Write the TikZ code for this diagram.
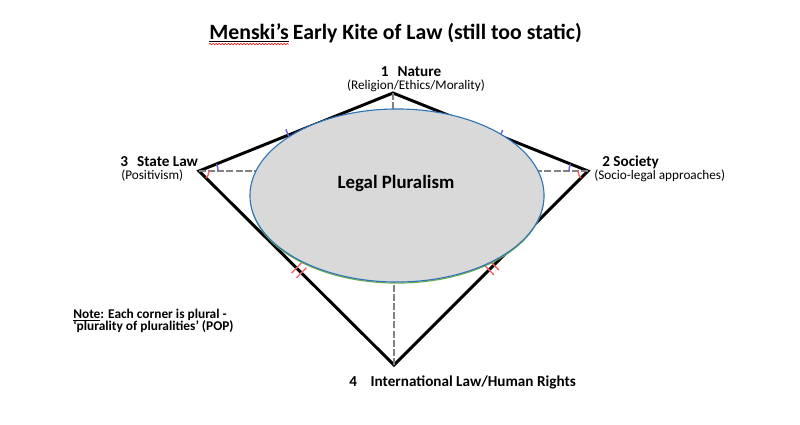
\documentclass[tikz,border=0pt]{standalone}
\usepackage{fontspec}
\setmainfont{Carlito}
\usetikzlibrary{positioning, calc, shapes.geometric, decorations.pathmorphing}
\definecolor{lpfill}{RGB}{217,217,217}
\definecolor{lpblue}{RGB}{46,117,182}
\definecolor{lpgreen}{RGB}{112,173,71}
\definecolor{tickblue}{RGB}{105,95,235}
\definecolor{tickred}{RGB}{245,100,100}
\definecolor{spokegray}{RGB}{130,130,130}
\tikzset{
  kite/.style={line width=2.1pt, black, line join=miter},
  spoke/.style={spokegray, line width=1.1pt, dash pattern=on 5pt off 1.5pt},
  tickb/.style={tickblue, line width=1pt},
  tickr/.style={tickred, line width=1pt},
  lpshape/.style={ellipse, draw=lpblue, fill=lpfill, line width=0.8pt, inner sep=0pt,
    minimum width=7.35cm, minimum height=4.325cm},
  corner/.style={font=\bfseries\fontsize{10.8}{13}\selectfont, inner sep=0pt},
  cornersub/.style={font=\fontsize{9.4}{11}\selectfont, inner sep=0pt},
  notetext/.style={font=\bfseries\fontsize{9.5}{11}\selectfont, inner sep=0pt, anchor=base west},
  titletext/.style={font=\bfseries\fontsize{15.5}{18}\selectfont, inner sep=0pt},
}
\newcommand{\gap}[1]{\hspace{#1em}}

\begin{document}
\begin{tikzpicture}[x=0.025cm, y=0.025cm]
      \useasboundingbox (0,0) rectangle (800,424);

      % corners of the kite
      \coordinate (nat) at (393,331);
      \coordinate (soc) at (588,253);
      \coordinate (intl) at (394,59);
      \coordinate (sl) at (199,253);
      \coordinate (lpc) at (397,228.5);

      % title
      \node[titletext, anchor=base west] (ttlA) at (209,385) {\underline{Menski’s}};
      \node[titletext, anchor=base west] (ttlB) at ([xshift=0.25em]ttlA.base east) {Early Kite of Law (still too static)};
      \draw[red, line width=0.4pt, decorate, decoration={snake, amplitude=0.5pt, segment length=2.2pt}]
        ([yshift=-3.6pt]ttlA.base west) -- ([yshift=-3.6pt]ttlA.base east);

      % kite
      \draw[kite] (nat) -- (soc) -- (intl) -- (sl) -- cycle;

      % spokes
      \draw[spoke] (nat) -- (nat |- lpc);
      \draw[spoke] (intl) -- (intl |- lpc);
      \draw[spoke] (sl) -- (sl -| lpc);
      \draw[spoke] (soc) -- (soc -| lpc);

      % equal sides
      \path (sl) -- (nat) coordinate[pos=0.46] (tkA);
      \path (soc) -- (nat) coordinate[pos=0.45] (tkB);
      \path (sl) -- (intl) coordinate[pos=0.50] (tkC1) coordinate[pos=0.525] (tkC2);
      \path (soc) -- (intl) coordinate[pos=0.485] (tkD1) coordinate[pos=0.51] (tkD2);
      \draw[tickb] ($(tkA)!4.5pt!90:(nat)$) -- ($(tkA)!2pt!-90:(nat)$);
      \draw[tickb] ($(tkB)!4.5pt!-90:(nat)$) -- ($(tkB)!2pt!90:(nat)$);
      \draw[tickr] ($(tkC1)!5pt!90:(intl)$) -- ($(tkC1)!5pt!-90:(intl)$);
      \draw[tickr] ($(tkC2)!5pt!90:(intl)$) -- ($(tkC2)!5pt!-90:(intl)$);
      \draw[tickr] ($(tkD1)!5pt!90:(intl)$) -- ($(tkD1)!5pt!-90:(intl)$);
      \draw[tickr] ($(tkD2)!5pt!90:(intl)$) -- ($(tkD2)!5pt!-90:(intl)$);

      % equal angles
      \draw[tickb] ($(sl)+(19,0)$) arc[start angle=0, end angle=22, radius=19];
      \draw[tickr] ($(sl)+(10,0)$) arc[start angle=0, end angle=-45, radius=10];
      \draw[tickb] ($(soc)+(-19,0)$) arc[start angle=180, end angle=158, radius=19];
      \draw[tickr] ($(soc)+(-10,0)$) arc[start angle=180, end angle=225, radius=10];

      % legal pluralism
      \draw[lpgreen, line width=0.8pt] ($(lpc)+(0,-1.6)$) ellipse[x radius=146.5, y radius=86];
      \node[lpshape] (lp) at (lpc) {};
      \node[font=\bfseries\fontsize{13.4}{16}\selectfont, inner sep=0pt] (lptxt) at (396,241) {Legal Pluralism};

      % corner labels
      \node[corner, anchor=base] (natA) at (411,347.5) {1\gap{0.6}Nature};
      \node[cornersub, anchor=base] (natB) at (416,335) {(Religion/Ethics/Morality)};
      \node[corner, anchor=base west] (socA) at (602,257.5) {2 Society};
      \node[cornersub, anchor=base west] (socB) at (594,245) {(Socio-legal approaches)};
      \node[corner, anchor=base west] (slA) at (120,257.5) {3\gap{0.6}State Law};
      \node[cornersub, anchor=base west] (slB) at (121,245) {(Positivism)};
      \node[corner, anchor=west] (intlA) at (349,42) {4\gap{0.9}International Law/Human Rights};

      % note
      \node[notetext] (noteA) at (73,106) {\underline{Note}: Each corner is plural -};
      \node[notetext] (noteB) at (73,93.5) {‘plurality of pluralities’ (POP)};
    \end{tikzpicture}
\end{document}
